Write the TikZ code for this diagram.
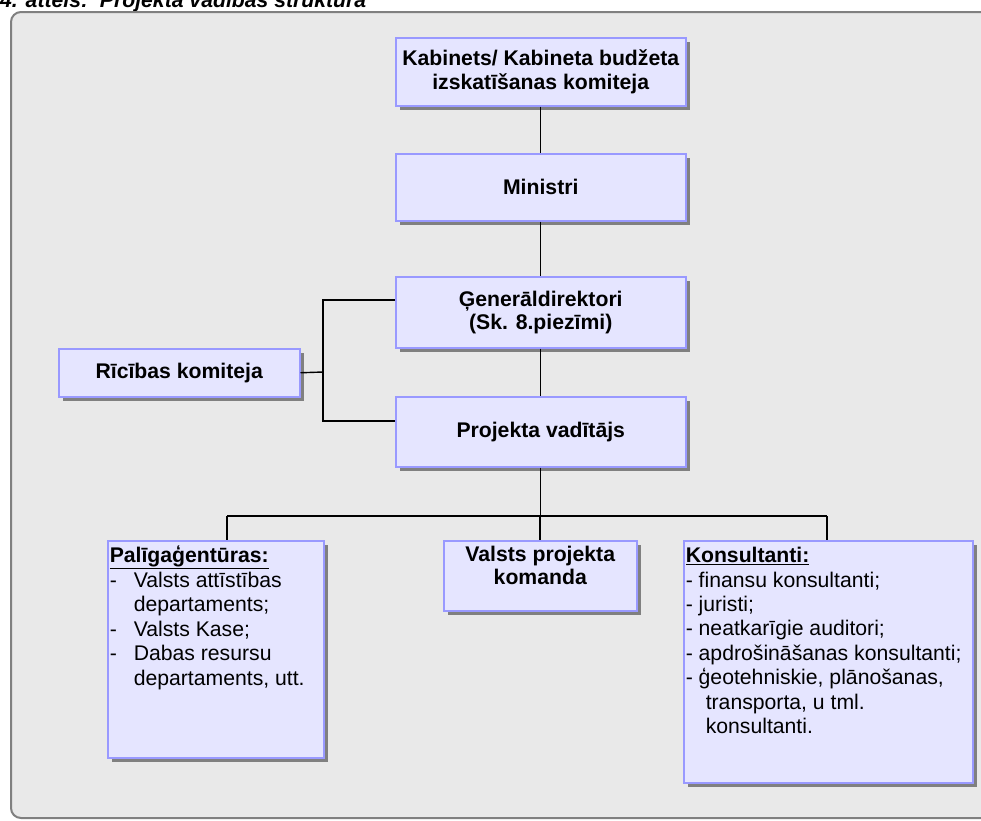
\documentclass[tikz,border=0pt]{standalone}
\usepackage{fontspec}
\setmainfont{Liberation Sans}
\usetikzlibrary{shadows}
\definecolor{panelbg}{RGB}{233,233,233}
\definecolor{panelline}{RGB}{128,128,128}
\definecolor{boxfill}{RGB}{229,229,255}
\definecolor{boxline}{RGB}{153,153,255}
\definecolor{shadowgray}{RGB}{128,128,128}
\newcommand{\dashitem}{\makebox[24pt][l]{-}}
\newcommand{\contitem}{\hspace*{24pt}}
\begin{document}
\begin{tikzpicture}[x=1pt,y=-1pt,
  box/.style={draw=boxline, fill=boxfill, line width=1.5pt, inner sep=0pt, anchor=north west,
    drop shadow={shadow xshift=4pt, shadow yshift=-4pt, fill=shadowgray, opacity=1}},
  boldtxt/.style={font=\fontsize{21.2}{23.2}\selectfont\bfseries, align=center},
  conn/.style={draw=black, line width=1.4pt},
  panel/.style={draw=panelline, fill=panelbg, line width=2pt, rounded corners=10pt}]
\useasboundingbox (0,0) rectangle (981,820);
\fill[white] (0,0) rectangle (981,820);
% title
\node[anchor=base west, inner sep=0pt, font=\fontsize{21.2}{23}\selectfont\bfseries\itshape] (title) at (0,7) {4. attēls:\ \ Projekta vadības struktūra};
% panel
\path[panel] (11,12) rectangle (1010,818);
% boxes
\node[box, boldtxt, minimum width=290pt, minimum height=68pt] (kab) at (395,37) {Kabinets/ Kabineta budžeta\\izskatīšanas komiteja};
\node[box, boldtxt, minimum width=290pt, minimum height=67pt] (min) at (395,153) {Ministri};
\node[box, boldtxt, minimum width=290pt, minimum height=71pt] (gen) at (395,276) {Ģenerāldirektori\\(Sk. 8.piezīmi)};
\node[box, boldtxt, minimum width=290pt, minimum height=70pt] (proj) at (395,396) {Projekta vadītājs};
\node[box, boldtxt, minimum width=241pt, minimum height=48pt] (ric) at (58,348) {Rīcības komiteja};
\node[box, minimum width=216pt, minimum height=217pt, inner sep=2pt] (pal) at (107,540)
  {\begin{minipage}[c][213pt][t]{212pt}\fontsize{21.2}{24.5}\selectfont\raggedright
   \rule{0pt}{20pt}\textbf{\underline{Palīgaģentūras:}}\\
   \dashitem Valsts attīstības\\
   \contitem departaments;\\
   \dashitem Valsts Kase;\\
   \dashitem Dabas resursu\\
   \contitem departaments, utt.
   \end{minipage}};
\node[box, minimum width=193pt, minimum height=70pt, inner sep=2pt] (vpk) at (443,540)
  {\begin{minipage}[c][66pt][t]{189pt}\fontsize{21.2}{23.5}\selectfont\bfseries\centering
   \rule{0pt}{18.5pt}Valsts projekta\\komanda
   \end{minipage}};
\node[box, minimum width=289pt, minimum height=242pt, inner sep=2pt] (kons) at (683,540)
  {\begin{minipage}[c][238pt][t]{285pt}\fontsize{21.2}{24.4}\selectfont\raggedright
   \rule{0pt}{20pt}\textbf{\underline{Konsultanti:}}\\
   - finansu konsultanti;\\
   - juristi;\\
   - neatkarīgie auditori;\\
   - apdrošināšanas konsultanti;\\
   - ģeotehniskie, plānošanas,\\
   \hspace*{20pt}transporta, u tml.\\
   \hspace*{20pt}konsultanti.
   \end{minipage}};
% junctions
\coordinate (jg) at (323,300);
\coordinate (jp) at (323,421);
\coordinate (jr) at (323,372);
\coordinate (bus) at (540,516);
\coordinate (busl) at (227,516);
\coordinate (busr) at (827,516);
% connectors
\draw[conn] (kab.south) -- (min.north);
\draw[conn] (min.south) -- (gen.north);
\draw[conn] (gen.south) -- (proj.north);
\draw[conn] (gen.west |- jg) -- (jg) -- (jp) -- (proj.west |- jp);
\draw[conn] (ric.east) -- (jr);
\draw[conn] (proj.south) -- (proj.south |- bus);
\draw[conn] (busl) -- (busr);
\draw[conn] (busl) -- (busl |- pal.north);
\draw[conn] (bus) -- (bus |- vpk.north);
\draw[conn] (busr) -- (busr |- kons.north);
\end{tikzpicture}
\end{document}
